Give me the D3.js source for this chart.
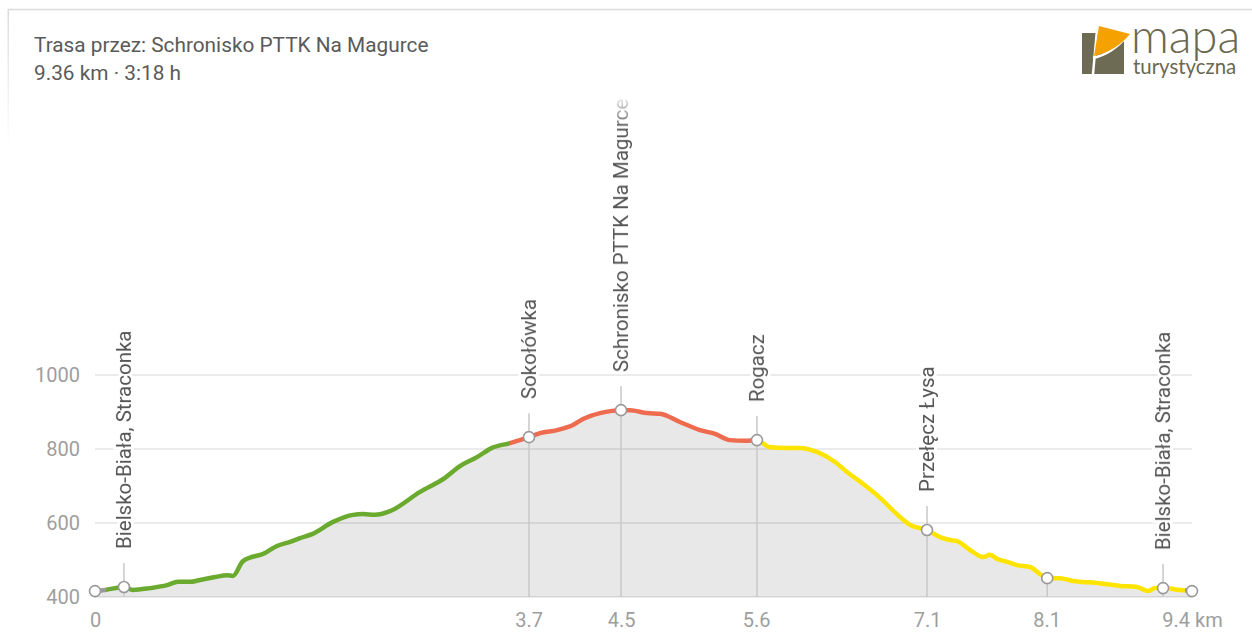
<html>
<head>
<meta charset="utf-8">
<script src="https://d3js.org/d3.v7.min.js"></script>
<style>
  body { margin: 0; background: #fff; }
  text { font-family: Roboto, sans-serif; }
</style>
</head>
<body>
<svg id="svg" width="1252" height="634"></svg>
<script>
'use strict';

const width = 1252;
const height = 634;

// elevation profile, km along the trail and metres
const dist = [0, 0.085, 0.247, 0.324, 0.469, 0.614, 0.708, 0.811, 0.896, 1.024, 1.126, 1.177,
	1.263, 1.451, 1.553, 1.664, 1.749, 1.852, 2.031, 2.201, 2.287, 2.389, 2.517, 2.773, 2.986,
	3.114, 3.259, 3.387, 3.541, 3.703, 3.797, 3.942, 4.078, 4.164, 4.309, 4.411, 4.488, 4.565,
	4.710, 4.821, 4.991, 5.162, 5.290, 5.418, 5.546, 5.648, 5.759, 5.904, 6.015, 6.160, 6.314,
	6.416, 6.544, 6.698, 6.869, 6.954, 7.099, 7.210, 7.295, 7.355, 7.466, 7.577, 7.637, 7.696,
	7.782, 7.867, 7.978, 8.063, 8.125, 8.234, 8.345, 8.549, 8.746, 8.891, 8.985, 9.044, 9.113,
	9.258, 9.36];
const elev = [416, 419, 427, 419, 424, 432, 441, 441, 446, 454, 459, 457,
	497, 519, 538, 549, 559, 570, 603, 622, 624, 622, 632, 684, 722,
	754, 778, 803, 816, 832, 843, 851, 865, 881, 897, 903, 905, 905,
	897, 895, 873, 851, 841, 824, 822, 824, 805, 803, 803, 792, 765,
	738, 708, 668, 616, 595, 581, 562, 554, 551, 527, 508, 514, 503,
	495, 486, 481, 462, 451, 451, 443, 438, 430, 427, 416, 424, 424,
	419, 416];

// trail colour changes (km where each colour starts)
const colorFrom = [0, 0.09, 3.54, 5.648, 9.3];
const colorName = ['#9a9a9a', '#6aaa2e', '#ee6b50', '#ffe400', '#9a9a9a'];

// waypoints
const wpName = ['', 'Bielsko-Biała, Straconka', 'Sokołówka', 'Schronisko PTTK Na Magurce', 'Rogacz',
	'Przełęcz Łysa', '', 'Bielsko-Biała, Straconka', ''];
const wpDist = [0, 0.247, 3.703, 4.488, 5.648, 7.099, 8.125, 9.113, 9.36];
const wpElev = [416, 427, 832, 905, 824, 581, 451, 424, 416];
const wpLine = [false, true, true, true, true, true, true, true, false];

const xTicks = [0, 3.70, 4.49, 5.64, 7.10, 8.12, 9.36];
const yTicks = [400, 600, 800, 1000];

const svg = d3.select('#svg');

const x = d3.scaleLinear().domain([0, 9.36]).range([95, 1192]);
const y = d3.scaleLinear().domain([400, 1000]).range([597, 375]);

const data = dist.map((d, i) => ({ d, e: elev[i] }));

// card border
const defs = svg.append('defs');
const fade = defs.append('linearGradient').attr('id', 'fade')
	.attr('x1', 0).attr('y1', 0).attr('x2', 0).attr('y2', 1);
fade.append('stop').attr('offset', 0).attr('stop-color', '#dcdcdc');
fade.append('stop').attr('offset', 1).attr('stop-color', '#dcdcdc').attr('stop-opacity', 0);
svg.append('line').attr('x1', 8).attr('x2', width).attr('y1', 9.5).attr('y2', 9.5)
	.attr('stroke', '#dcdcdc').attr('stroke-width', 1.5);
svg.append('rect').attr('x', 7.5).attr('y', 9).attr('width', 1.5).attr('height', 140)
	.attr('fill', 'url(#fade)');

// title
svg.append('text').attr('x', 34).attr('y', 52).attr('fill', '#5a5a5a')
	.style('font-size', '20.8px').text('Trasa przez: Schronisko PTTK Na Magurce');
svg.append('text').attr('x', 34).attr('y', 80).attr('fill', '#5a5a5a')
	.style('font-size', '20.8px').text('9.36 km · 3:18 h');

// logo
const logo = svg.append('g');
logo.append('rect').attr('x', 1082).attr('y', 33).attr('width', 42).attr('height', 41).attr('fill', '#6e6b55');
logo.append('path').attr('d', 'M1097,30 L1093,74').attr('stroke', '#fff').attr('stroke-width', 2.5);
logo.append('path').attr('d', 'M1093,58 Q1112,54 1127,36').attr('stroke', '#fff').attr('stroke-width', 2.5).attr('fill', 'none');
logo.append('path').attr('d', 'M1099,26 L1130,34 Q1116,51 1094,56 Z').attr('fill', '#f5a100');
logo.append('text').attr('x', 1131).attr('y', 53).attr('fill', '#6b6851')
	.style('font-family', 'Lato').style('font-weight', 300).style('font-size', '47px').text('mapa');
logo.append('text').attr('x', 1133).attr('y', 74).attr('fill', '#6b6851')
	.style('font-family', 'Lato').style('font-weight', 400).style('font-size', '20.4px').text('turystyczna');

// area
svg.append('path').datum(data)
	.attr('fill', '#e8e8e8')
	.attr('d', d3.area().x(d => x(d.d)).y0(y(400)).y1(d => y(d.e)).curve(d3.curveMonotoneX));

// grid
svg.append('g').selectAll('line').data(yTicks).join('line')
	.attr('x1', x(0)).attr('x2', x(9.36))
	.attr('y1', d => y(d)).attr('y2', d => y(d))
	.attr('stroke', '#000').attr('stroke-opacity', 0.08).attr('stroke-width', 2);

// y axis
const yAxis = svg.append('g').attr('transform', `translate(${x(0)},0)`)
	.call(d3.axisLeft(y).tickValues(yTicks).tickSize(0).tickPadding(15).tickFormat(d3.format('d')));
yAxis.select('.domain').remove();
yAxis.selectAll('text').attr('fill', '#9e9e9e').style('font-size', '20px').style('font-family', 'Roboto');

// x axis
const xAxis = svg.append('g').attr('transform', `translate(0,${y(400)})`)
	.call(d3.axisBottom(x).tickValues(xTicks).tickSize(0).tickPadding(16)
		.tickFormat((d, i) => i === 0 ? '0' : (i === xTicks.length - 1 ? d3.format('.1f')(d) + ' km' : d3.format('.1f')(d))));
xAxis.select('.domain').remove();
xAxis.selectAll('text').attr('fill', '#9e9e9e').style('font-size', '20px').style('font-family', 'Roboto');

// waypoint lines
const wps = wpName.map((n, i) => ({ n, d: wpDist[i], e: wpElev[i], line: wpLine[i] }));
svg.append('g').selectAll('line').data(wps.filter(d => d.line)).join('line')
	.attr('x1', d => x(d.d)).attr('x2', d => x(d.d))
	.attr('y1', d => d.n ? y(d.e) - 24 : y(d.e)).attr('y2', y(400))
	.attr('stroke', '#c8c8c8').attr('stroke-width', 1.5);

// trail line with colour segments
const grad = defs.append('linearGradient').attr('id', 'trail')
	.attr('gradientUnits', 'userSpaceOnUse')
	.attr('x1', x(0)).attr('x2', x(9.36)).attr('y1', 0).attr('y2', 0);
colorFrom.forEach((f, i) => {
	const to = i < colorFrom.length - 1 ? colorFrom[i + 1] : 9.36;
	grad.append('stop').attr('offset', f / 9.36).attr('stop-color', colorName[i]);
	grad.append('stop').attr('offset', to / 9.36).attr('stop-color', colorName[i]);
});
svg.append('path').datum(data)
	.attr('fill', 'none')
	.attr('stroke', 'url(#trail)')
	.attr('stroke-width', 4.5)
	.attr('stroke-linejoin', 'round')
	.attr('d', d3.line().x(d => x(d.d)).y(d => y(d.e)).curve(d3.curveMonotoneX));

// markers
svg.append('g').selectAll('circle').data(wps).join('circle')
	.attr('cx', d => x(d.d)).attr('cy', d => y(d.e)).attr('r', 5.5)
	.attr('fill', '#fff').attr('stroke', '#999').attr('stroke-width', 1.6);

// labels, fading out at the top
const mfade = defs.append('linearGradient').attr('id', 'mfade')
	.attr('gradientUnits', 'userSpaceOnUse').attr('x1', 0).attr('x2', 0).attr('y1', 94).attr('y2', 128);
mfade.append('stop').attr('offset', 0).attr('stop-color', '#fff').attr('stop-opacity', 0);
mfade.append('stop').attr('offset', 1).attr('stop-color', '#fff').attr('stop-opacity', 1);
defs.append('mask').attr('id', 'lmask').attr('maskUnits', 'userSpaceOnUse')
	.attr('x', 0).attr('y', 0).attr('width', width).attr('height', height)
	.append('rect').attr('x', 0).attr('y', 0).attr('width', width).attr('height', height).attr('fill', 'url(#mfade)');

svg.append('g').attr('mask', 'url(#lmask)').selectAll('text').data(wps.filter(d => d.n)).join('text')
	.attr('transform', d => `translate(${x(d.d) + 7},${y(d.e) - 38}) rotate(-90)`)
	.attr('fill', '#555')
	.attr('stroke', '#fff').attr('stroke-width', 6).attr('paint-order', 'stroke')
	.style('font-size', '20.5px')
	.text(d => d.n);
</script>
</body>
</html>
